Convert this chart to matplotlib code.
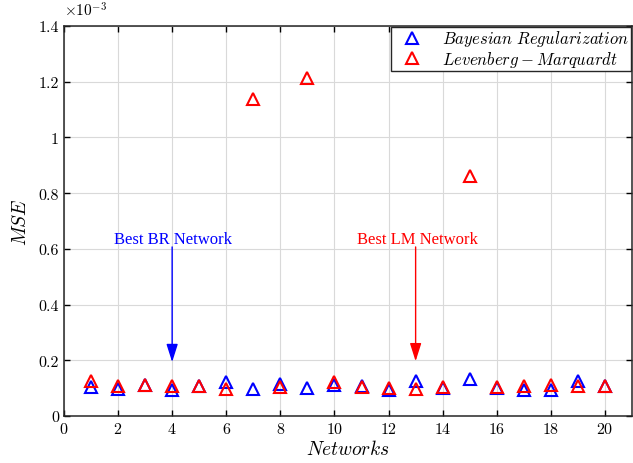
import numpy as np
import matplotlib.pyplot as plt
from matplotlib.ticker import FuncFormatter

plt.rcParams['font.family'] = 'serif'
plt.rcParams['font.serif'] = ['cmr10']
plt.rcParams['mathtext.fontset'] = 'cm'
plt.rcParams['axes.formatter.use_mathtext'] = True

networks = np.arange(1, 21)
# MSE values, in units of 1e-3
mse_br = [0.104, 0.099, 0.110, 0.094, 0.107, 0.123, 0.097, 0.116, 0.102, 0.112,
          0.109, 0.094, 0.125, 0.101, 0.135, 0.101, 0.094, 0.093, 0.127, 0.107]
mse_lm = [0.126, 0.108, 0.112, 0.107, 0.109, 0.097, 1.136, 0.103, 1.212, 0.122,
          0.103, 0.100, 0.097, 0.103, 0.860, 0.103, 0.109, 0.111, 0.109, 0.109]

fig = plt.figure(figsize=(6.33, 4.64), dpi=100)
ax = fig.add_axes([0.101, 0.101, 0.8975, 0.841])

ax.plot(networks, mse_br, '^', mfc='none', mec='blue', mew=1.5, ms=8,
        label=r'$Bayesian\ Regularization$')
ax.plot(networks, mse_lm, '^', mfc='none', mec='red', mew=1.5, ms=8,
        label=r'$Levenberg-Marquardt$')

ax.set_xlim(0, 21)
ax.set_ylim(0, 1.4)
ax.set_xticks(np.arange(0, 21, 2))
ax.set_yticks(np.arange(0, 1.41, 0.2))
ax.yaxis.set_major_formatter(FuncFormatter(lambda v, p: f'{v:.1f}'.rstrip('0').rstrip('.') if v else '0'))
ax.tick_params(direction='in', top=True, right=True, labelsize=11.5, length=4, width=1)
ax.grid(True, color='#d9d9d9', lw=0.8)
ax.set_axisbelow(True)
for s in ax.spines.values():
    s.set_linewidth(1.1)
    s.set_color('#262626')

ax.text(0.0, 1.425, r'$\times10^{-3}$', fontsize=11, ha='left', va='bottom')
ax.set_xlabel(r'$Networks$', fontsize=14, labelpad=2)
ax.set_ylabel(r'$MSE$', fontsize=14, labelpad=6)

# arrows pointing at the best networks
best_br = 4
best_lm = 13
for n, mse, col, txt, dx in [(best_br, mse_br, 'blue', 'Best BR Network', 0.05),
                             (best_lm, mse_lm, 'red', 'Best LM Network', 0.08)]:
    ax.annotate('', xy=(n, mse[n - 1] + 0.1), xytext=(n, 0.607),
                arrowprops=dict(arrowstyle='-|>,head_length=1.1,head_width=0.35',
                                color=col, lw=1, mutation_scale=10,
                                shrinkA=0, shrinkB=0))
    ax.text(n + dx, 0.635, txt, color=col, ha='center', va='center',
            fontsize=12, family='Liberation Serif')

leg = ax.legend(loc='upper right', borderaxespad=0.05, fontsize=12, fancybox=False,
                edgecolor='#262626', framealpha=1, handletextpad=0.6, borderpad=0.1,
                labelspacing=0.05, handlelength=2.4)
leg.get_frame().set_linewidth(1.0)

fig.savefig('out.png', dpi=100)
